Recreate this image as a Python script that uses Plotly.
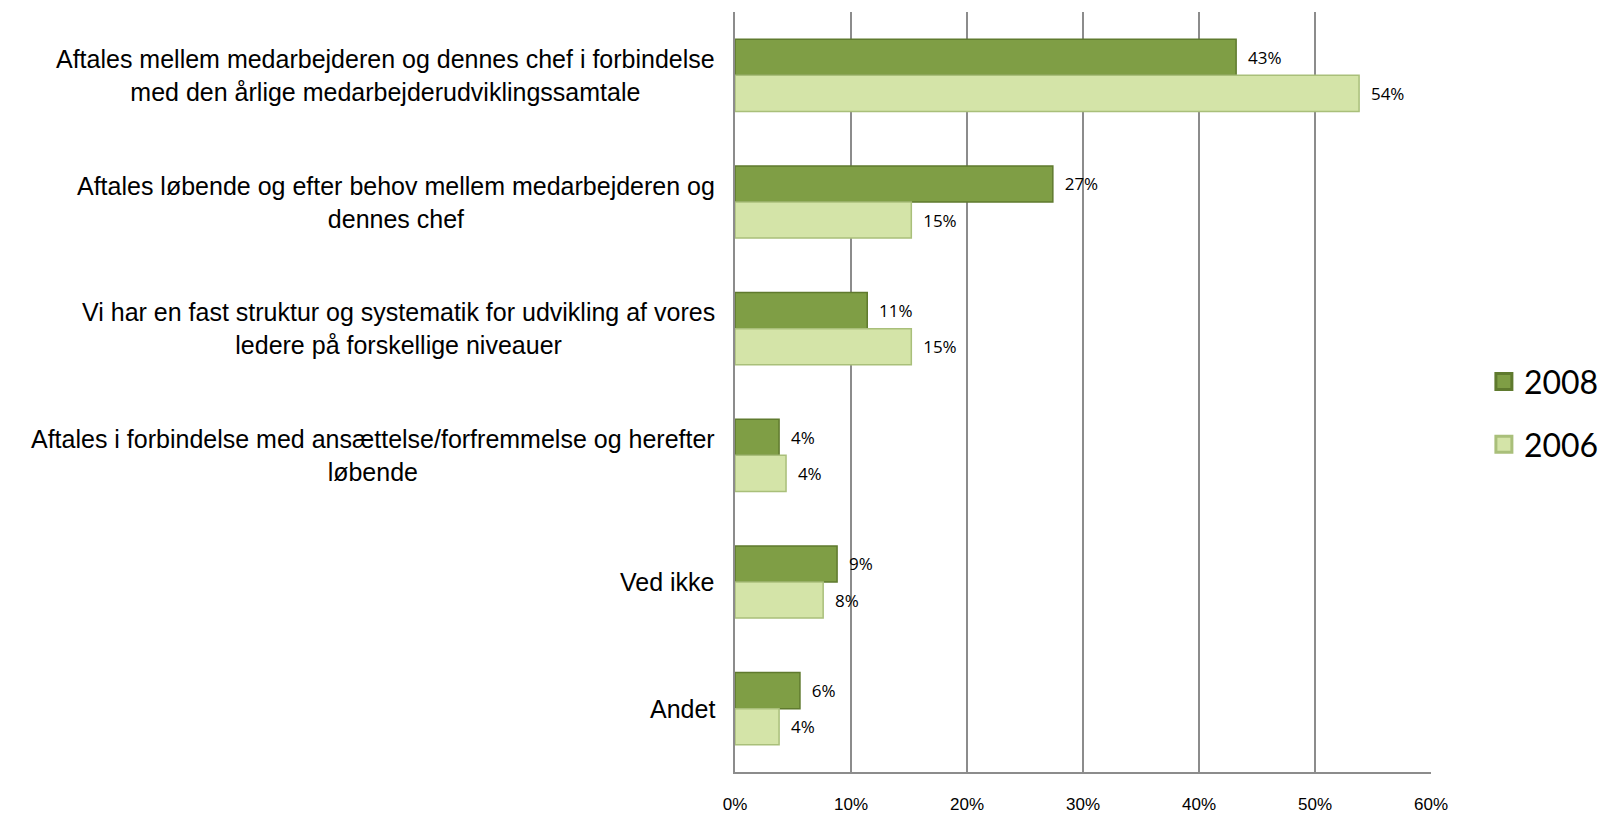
import plotly.graph_objects as go

categories = [
    "Aftales mellem medarbejderen og dennes chef i forbindelse<br>med den årlige medarbejderudviklingssamtale",
    "Aftales løbende og efter behov mellem medarbejderen og<br>dennes chef",
    "Vi har en fast struktur og systematik for udvikling af vores<br>ledere på forskellige niveauer",
    "Aftales i forbindelse med ansættelse/forfremmelse og herefter<br>løbende",
    "Ved ikke",
    "Andet",
]
series_names = ["2008", "2006"]
values_2008 = [43.2, 27.4, 11.4, 3.8, 8.8, 5.6]
values_2006 = [53.8, 15.2, 15.2, 4.4, 7.6, 3.8]
labels_2008 = ["43%", "27%", "11%", "4%", "9%", "6%"]
labels_2006 = ["54%", "15%", "15%", "4%", "8%", "4%"]
x_ticks = [0, 10, 20, 30, 40, 50, 60]
x_tick_labels = ["0%", "10%", "20%", "30%", "40%", "50%", "60%"]

colors = {"2008": "#7f9e45", "2006": "#d4e4a8"}
borders = {"2008": "#5f7a2e", "2006": "#a9bf7a"}

fig = go.Figure()
for name, vals, labs in [("2008", values_2008, labels_2008), ("2006", values_2006, labels_2006)]:
    fig.add_trace(go.Bar(
        y=categories, x=vals, orientation="h", name=name,
        marker=dict(color=colors[name], line=dict(color=borders[name], width=1.5)),
        text=["  " + t for t in labs], textposition="outside",
        textfont=dict(family="Open Sans, Lato, sans-serif", size=17, color="#000"),
        cliponaxis=False, showlegend=False,
    ))

for i, name in enumerate(series_names):
    fig.add_trace(go.Scatter(
        x=[None], y=[None], mode="markers", name=name, legendgroup=name,
        marker=dict(symbol="square", size=16, color=colors[name],
                    line=dict(color=borders[name], width=3)),
    ))

for cat in categories:
    fig.add_annotation(
        x=0, y=cat, xref="paper", yref="y", xanchor="right", yanchor="middle",
        xshift=-18, text=cat, showarrow=False, align="center",
        font=dict(family="Liberation Sans, Arial, sans-serif", size=25, color="#000"),
    )

fig.update_layout(
    width=1606, height=816,
    margin=dict(l=735, r=175, t=12, b=44, autoexpand=False),
    plot_bgcolor="white", paper_bgcolor="white",
    barmode="group", bargap=0.43, bargroupgap=0,
    legend=dict(x=1.076, y=0.472, xanchor="left", yanchor="middle",
                font=dict(family="Lato, Open Sans, sans-serif", size=32, color="#000"),
                tracegroupgap=18, itemsizing="trace"),
    xaxis=dict(range=[0, 60], tickvals=x_ticks, ticktext=x_tick_labels,
               showgrid=True, gridcolor="#8c8c8c", gridwidth=1.5,
               showline=True, linecolor="#8c8c8c", linewidth=1.5,
               zeroline=False, ticks="", ticklabelstandoff=16,
               tickfont=dict(family="Liberation Sans, Arial, sans-serif", size=17, color="#000")),
    yaxis=dict(autorange="reversed", showticklabels=False, showgrid=False,
               showline=True, linecolor="#8c8c8c", linewidth=1.5, ticks=""),
)

fig.write_html("out.html", config={"displayModeBar": False},
               post_script="document.body.style.margin='0';document.body.style.overflow='hidden';")
